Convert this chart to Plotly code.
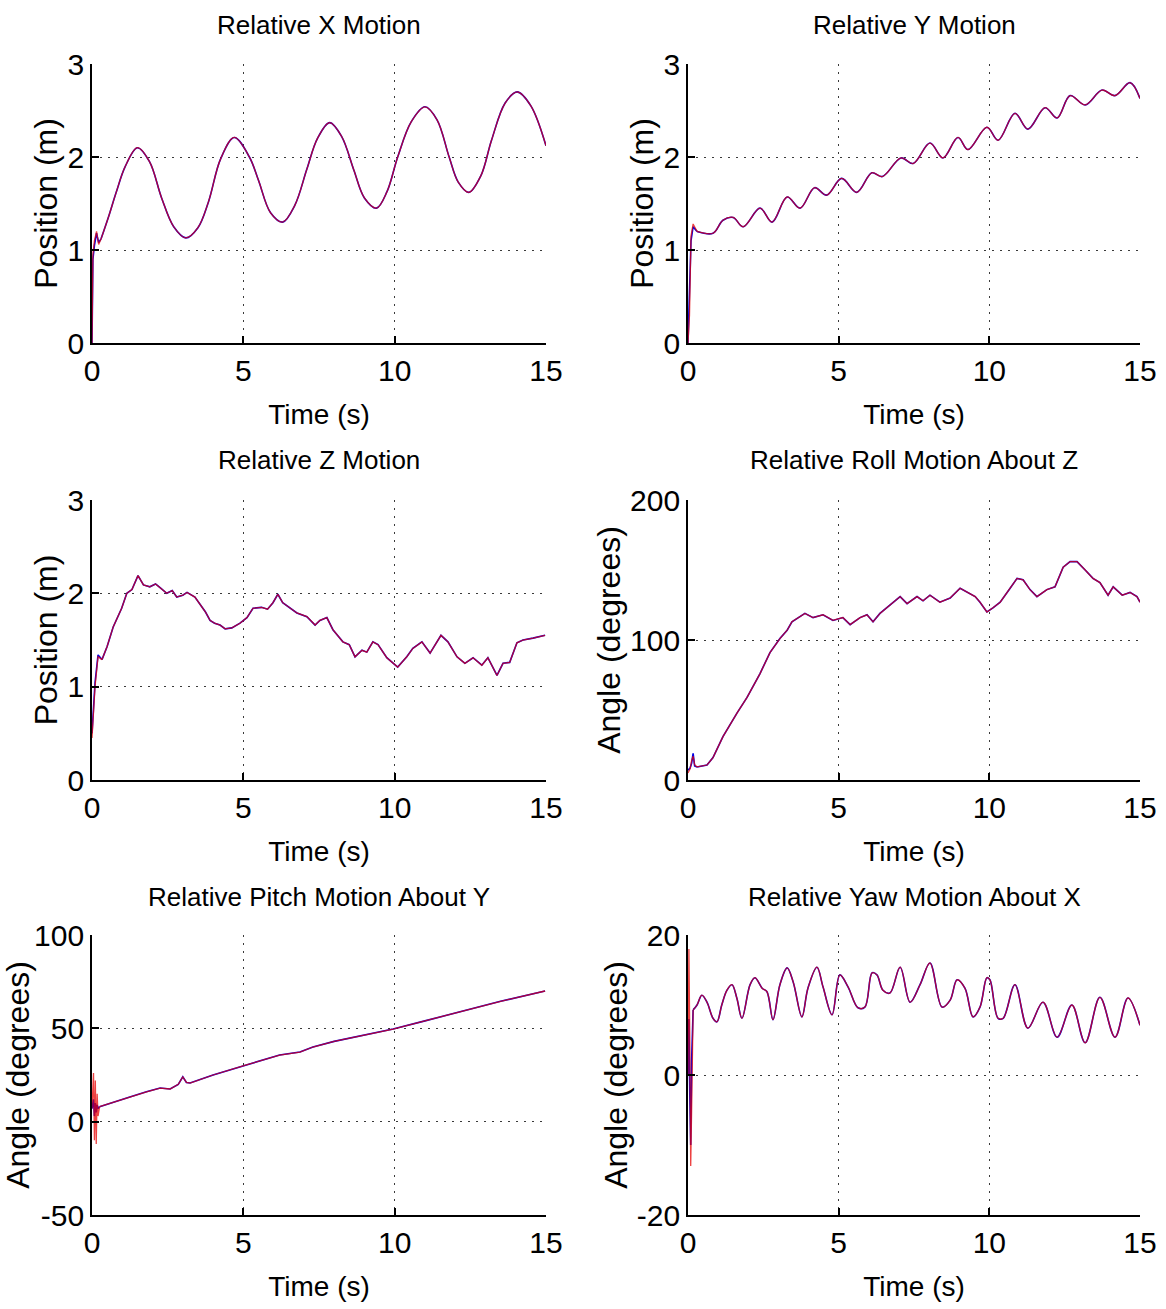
import plotly.graph_objects as go

# ---------------- data ----------------
# Relative X Motion (m)
x_head_t = [0, 0.03, 0.08, 0.15, 0.22, 0.3]
x_head_blue = [0, 0.9, 1.05, 1.18, 1.08, 1.12]
x_head_red = [0, 0.95, 1.1, 1.2, 1.06, 1.12]
x_t = [0.3, 0.55, 0.8, 1.1, 1.5, 1.9, 2.3, 2.7, 3.1, 3.5, 3.85, 4.25, 4.7, 5.2, 5.5, 5.9,
       6.3, 6.7, 7.1, 7.45, 7.85, 8.25, 8.65, 9.0, 9.4, 9.75, 10.1, 10.55, 11.0, 11.4,
       11.8, 12.1, 12.45, 12.85, 13.2, 13.65, 14.05, 14.5, 15.0]
x_v = [1.12, 1.36, 1.62, 1.9, 2.1, 1.95, 1.56, 1.25, 1.13, 1.24, 1.52, 1.98, 2.21, 2.0, 1.75, 1.4,
       1.3, 1.48, 1.87, 2.2, 2.37, 2.22, 1.86, 1.56, 1.45, 1.63, 2.0, 2.38, 2.54, 2.4,
       2.0, 1.73, 1.62, 1.8, 2.18, 2.58, 2.7, 2.55, 2.12]

# Relative Y Motion (m)
y_head_t = [0, 0.05, 0.1, 0.17, 0.3]
y_head_blue = [0, 0.6, 1.1, 1.25, 1.2]
y_head_red = [0, 0.3, 1.15, 1.28, 1.2]
y_t = [0.3, 0.83, 1.16, 1.5, 1.83, 2.39, 2.79, 3.29, 3.72, 4.2, 4.6, 5.1, 5.6, 6.1, 6.45,
       7.07, 7.47, 8.03, 8.46, 8.96, 9.29, 9.92, 10.29, 10.85, 11.28, 11.85, 12.25, 12.68,
       13.18, 13.74, 14.17, 14.67, 15.0]
y_v = [1.2, 1.18, 1.32, 1.35, 1.25, 1.45, 1.3, 1.57, 1.45, 1.67, 1.59, 1.77, 1.62, 1.83, 1.79,
       1.99, 1.93, 2.15, 1.99, 2.21, 2.08, 2.32, 2.18, 2.47, 2.30, 2.53, 2.42, 2.66,
       2.56, 2.72, 2.66, 2.8, 2.63]

# Relative Z Motion (m)
z_head_t = [0, 0.1, 0.2, 0.33]
z_head_blue = [0.5, 1.04, 1.34, 1.29]
z_head_red = [0.45, 1.0, 1.32, 1.29]
z_t = [0.33, 0.5, 0.7, 0.98, 1.15, 1.32, 1.52, 1.7, 1.91, 2.1, 2.25, 2.47, 2.65, 2.8, 3.0,
       3.14, 3.4, 3.57, 3.75, 3.9, 4.05, 4.23, 4.4, 4.62, 4.89, 5.12, 5.32, 5.6, 5.8, 5.98,
       6.14, 6.3, 6.55, 6.77, 7.1, 7.37, 7.53, 7.76, 7.96, 8.29, 8.5, 8.69, 8.92, 9.08, 9.28,
       9.45, 9.74, 10.1, 10.4, 10.6, 10.9, 11.17, 11.53, 11.76, 12.06, 12.32, 12.59, 12.88,
       13.08, 13.38, 13.58, 13.8, 14.04, 14.24, 14.57, 14.97]
z_v = [1.29, 1.43, 1.64, 1.84, 2.0, 2.04, 2.19, 2.09, 2.07, 2.1, 2.06, 2.0, 2.03, 1.96, 1.98,
       2.01, 1.96, 1.88, 1.8, 1.71, 1.68, 1.66, 1.62, 1.63, 1.68, 1.74, 1.84, 1.85, 1.83, 1.9,
       1.99, 1.9, 1.84, 1.79, 1.75, 1.66, 1.71, 1.74, 1.61, 1.48, 1.45, 1.32, 1.39, 1.37, 1.48,
       1.45, 1.31, 1.21, 1.32, 1.41, 1.48, 1.36, 1.55, 1.48, 1.32, 1.25, 1.31, 1.23,
       1.31, 1.12, 1.25, 1.26, 1.47, 1.5, 1.52, 1.55]

# Relative Roll Motion About Z (degrees)
roll_head_t = [0, 0.07, 0.12, 0.17, 0.22, 0.3]
roll_head_blue = [7, 8.6, 12, 19, 10, 9.3]
roll_head_red = [5, 8.0, 14, 17, 11, 9.3]
roll_t = [0.3, 0.63, 0.83, 1.16, 1.63, 1.96, 2.39, 2.72, 3.05, 3.29, 3.45, 3.65, 3.88, 4.15,
          4.48, 4.81, 5.14, 5.38, 5.71, 5.94, 6.14, 6.37, 6.7, 7.04, 7.27, 7.6, 7.8, 8.03,
          8.36, 8.7, 9.03, 9.26, 9.53, 9.69, 9.92, 10.12, 10.36, 10.69, 10.92, 11.12, 11.35,
          11.58, 11.91, 12.18, 12.45, 12.68, 12.91, 13.18, 13.44, 13.67, 13.94, 14.11, 14.41,
          14.67, 14.9, 15.0]
roll_v = [9.3, 10.7, 16, 31, 48, 59, 76, 91, 101, 107, 113, 116, 119, 116,
          118, 114, 116, 111, 116, 118, 113, 119, 125, 131, 126, 131, 128, 132,
          127, 130, 137, 134, 131, 127, 120, 123, 127, 137, 144, 143, 136,
          131, 136, 138, 152, 156, 156, 150, 144, 141, 132, 138, 132,
          134, 131, 127]

# Relative Pitch Motion About Y (degrees)
pitch_head_t = [0, 0.05, 0.08, 0.11, 0.14, 0.17, 0.2, 0.25]
pitch_head_blue = [7, 12, 3, 10, 5, 9, 7, 8]
pitch_head_red = [7, 26, -10, 22, -12, 15, 3, 8]
pitch_t = [0.25, 0.7, 1.25, 1.8, 2.25, 2.58, 2.85, 3.0, 3.12, 3.24, 4.0, 5.1, 6.2, 6.87, 7.3,
           8.0, 9.0, 9.95, 11.0, 12.39, 13.5, 14.97]
pitch_v = [8, 10.5, 13.2, 16, 18, 17.5, 20, 24, 21, 20.7, 25, 30.4, 35.7, 37.3, 40,
           43, 46.5, 49.6, 54, 59.8, 64.5, 70]

# Relative Yaw Motion About X (degrees)
yaw_head_t = [0, 0.03, 0.06, 0.09, 0.12, 0.15, 0.17]
yaw_head_blue = [0, 8, -3, -10, 2, 7, 9.3]
yaw_head_red = [0, 18, 5, -13, -5, 8, 9.3]
yaw_t = [0.17, 0.3, 0.46, 0.63, 0.83, 0.96, 1.12, 1.29, 1.46, 1.62, 1.79, 2.06, 2.22, 2.46,
         2.62, 2.82, 3.05, 3.29, 3.49, 3.78, 3.98, 4.28, 4.48, 4.78, 5.04, 5.31, 5.64, 5.87,
         6.11, 6.27, 6.47, 6.7, 7.04, 7.37, 7.7, 8.03, 8.43, 8.7, 8.93, 9.19, 9.46, 9.69,
         9.92, 10.02, 10.29, 10.46, 10.85, 11.28, 11.78, 12.25, 12.74, 13.18, 13.67, 14.17,
         14.6, 15.0]
yaw_v = [9.3, 10, 11.4, 10.4, 8.1, 7.6, 10, 12.1, 12.9, 11, 8.1, 12.9, 13.9, 12.4,
         11.9, 7.9, 12.9, 15.3, 13.3, 8.3, 12.4, 15.4, 12.6, 8.6, 14.3, 12.6, 9.6, 9.7,
         14.6, 14.3, 12.1, 11.7, 15.4, 10.4, 12.9, 16, 9.7, 10.7, 13.6, 12.4, 8.3, 9.7,
         13.9, 13.6, 8.1, 8.1, 12.9, 6.7, 10.4, 5.4, 10, 4.6, 11.1, 5.4,
         11, 7.1]

titles = ["Relative X Motion", "Relative Y Motion", "Relative Z Motion",
          "Relative Roll Motion About Z", "Relative Pitch Motion About Y",
          "Relative Yaw Motion About X"]
y_titles = ["Position (m)", "Position (m)", "Position (m)",
            "Angle (degrees)", "Angle (degrees)", "Angle (degrees)"]
x_ticks = [0, 5, 10, 15]
x_tick_text = ["0", "5", "10", "15"]
y_ticks = [[0, 1, 2, 3], [0, 1, 2, 3], [0, 1, 2, 3],
           [0, 100, 200], [-50, 0, 50, 100], [-20, 0, 20]]
y_tick_text = [["0", "1", "2", "3"], ["0", "1", "2", "3"], ["0", "1", "2", "3"],
               ["0", "100", "200"], ["-50", "0", "50", "100"], ["-20", "0", "20"]]

panels = [
    (x_head_t, x_head_blue, x_head_red, x_t, x_v, "spline"),
    (y_head_t, y_head_blue, y_head_red, y_t, y_v, "spline"),
    (z_head_t, z_head_blue, z_head_red, z_t, z_v, "linear"),
    (roll_head_t, roll_head_blue, roll_head_red, roll_t, roll_v, "linear"),
    (pitch_head_t, pitch_head_blue, pitch_head_red, pitch_t, pitch_v, "linear"),
    (yaw_head_t, yaw_head_blue, yaw_head_red, yaw_t, yaw_v, "spline"),
]

# ---------------- layout geometry (pixels) ----------------
W, H = 1166, 1309
col_px = [(92, 546), (688, 1140)]
row_px = [(64, 343), (500, 780), (935, 1215)]
title_y_px = [25, 460, 897]
ytitle_standoff = [0, 0, 0, 0, 0, 0]

FONT = "Liberation Sans, Arial, sans-serif"

fig = go.Figure()
layout = dict(width=W, height=H, margin=dict(l=0, r=0, t=0, b=0, autoexpand=False),
              template="none",
              paper_bgcolor="white", plot_bgcolor="white", showlegend=False,
              annotations=[])

BLUE = "rgb(0,0,230)"
RED = "rgba(230,0,0,0.75)"

for i, (ht, hb, hr, bt, bv, shape) in enumerate(panels):
    r, c = divmod(i, 2)
    n = i + 1
    xa = "x" if n == 1 else f"x{n}"
    ya = "y" if n == 1 else f"y{n}"
    for tt, vv, col, w, shp in [(ht, hb, BLUE, 1.6, "linear"), (bt, bv, BLUE, 1.6, shape),
                                 (ht, hr, RED, 1.3, "linear"), (bt, bv, RED, 1.3, shape)]:
        fig.add_trace(go.Scatter(x=tt, y=vv, mode="lines", xaxis=xa, yaxis=ya,
                                 line=dict(color=col, width=w, shape=shp),
                                 hoverinfo="skip"))
    x0, x1 = col_px[c]
    y0, y1 = row_px[r]
    yt = y_ticks[i]
    common = dict(showline=True, linecolor="black", linewidth=1.8, mirror=False,
                  ticks="inside", ticklen=7, tickcolor="black", tickwidth=1.5,
                  showgrid=True, gridcolor="#3a3a3a", gridwidth=1, griddash="2px,6px",
                  zeroline=False, automargin=False,
                  tickfont=dict(family=FONT, size=30, color="black"))
    layout["xaxis" if n == 1 else f"xaxis{n}"] = dict(
        common, domain=[x0 / W, x1 / W], range=[0, 15], tickvals=x_ticks,
        ticktext=x_tick_text, anchor=ya,
        title=dict(text="Time (s)", font=dict(family=FONT, size=28, color="black"),
                   standoff=18))
    layout["yaxis" if n == 1 else f"yaxis{n}"] = dict(
        common, domain=[1 - y1 / H, 1 - y0 / H], range=[yt[0], yt[-1]], tickvals=yt,
        ticktext=y_tick_text[i], anchor=xa,
        title=dict(text=y_titles[i], font=dict(family=FONT, size=32, color="black"),
                   standoff=ytitle_standoff[i]))
    layout["annotations"].append(dict(
        text=titles[i], xref="paper", yref="paper", x=(x0 + x1) / 2 / W,
        y=1 - title_y_px[r] / H, xanchor="center", yanchor="middle", showarrow=False,
        font=dict(family=FONT, size=26, color="black")))

fig.update_layout(**layout)
fig.write_html("out.html")
